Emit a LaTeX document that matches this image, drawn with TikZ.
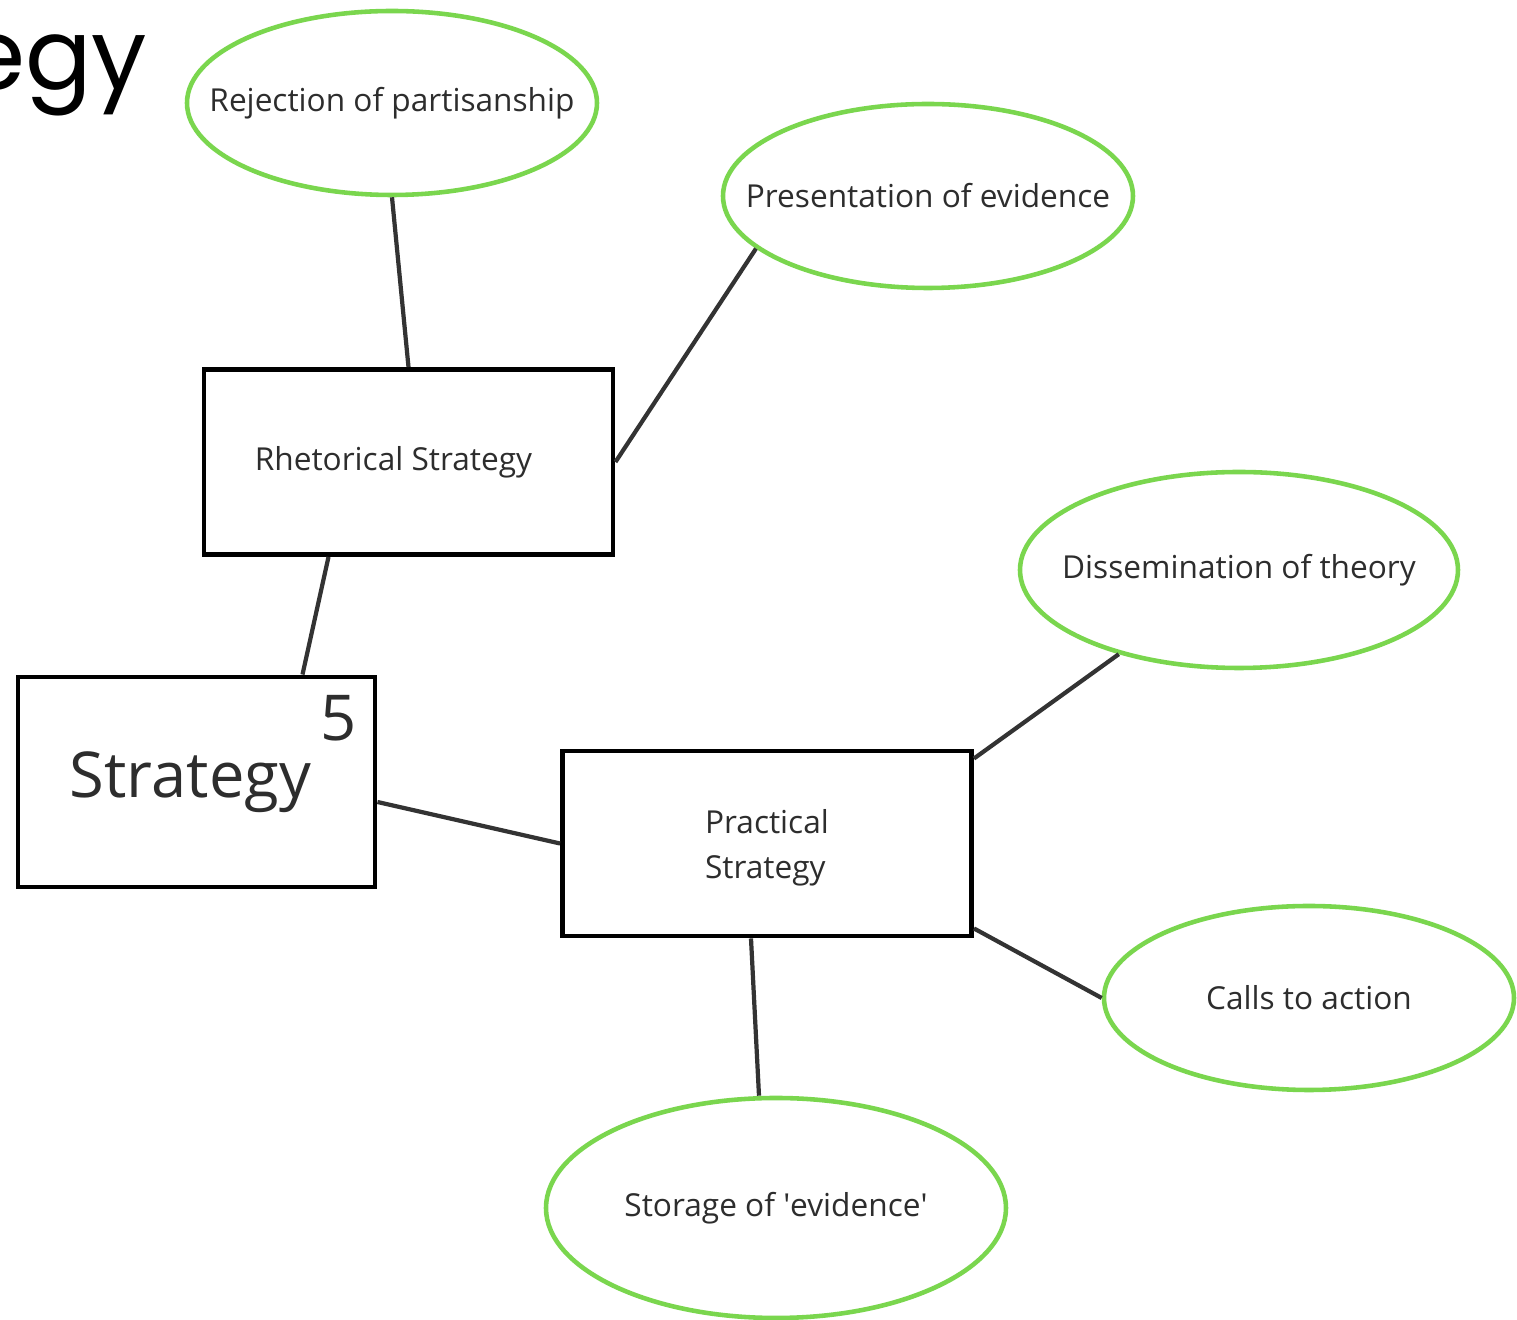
\documentclass[tikz,border=0pt]{standalone}
\usepackage{fontspec}
\setmainfont{Open Sans}
\newfontfamily\titlefont{Poppins}
\usepackage{xcolor}
\usepackage{tikz}
\usetikzlibrary{shapes,positioning,calc}
\definecolor{ideagreen}{RGB}{122, 214, 78}
\definecolor{linkgray}{RGB}{51, 51, 51}
\definecolor{textgray}{RGB}{45, 45, 45}
% text that does not widen its ellipse
\newcommand{\ideatext}[1]{\makebox[0pt]{#1}}

\begin{document}
\begin{tikzpicture}[
    % mind-map styles
    idea/.style={ellipse, draw=ideagreen, line width=1.3pt, fill=white, inner sep=0pt, minimum width=4.1cm, minimum height=1.84cm, text=textgray, font=\fontsize{9}{12.8}\selectfont},
    strategy/.style={rectangle, draw=black, line width=1.4pt, fill=white, inner sep=0pt, minimum width=4.09cm, minimum height=1.85cm, text=textgray, font=\fontsize{9}{12.8}\selectfont},
    link/.style={line width=1.2pt, color=linkgray}
]
\useasboundingbox (0,0) rectangle (15.17,-13.2);

% Cut-off title
\node [anchor=base east, inner sep=0pt, font=\titlefont\fontsize{28}{32}\selectfont, text=black] (title) at (1.48,-0.9) {egy};

% Strategy boxes
\node [strategy] (rhetorical) at (4.085,-4.62) {\hspace*{-0.3cm}\raisebox{-0.03cm}{Rhetorical Strategy}};
\node [strategy, minimum width=3.57cm, minimum height=2.1cm, font=\fontsize{18}{22}\selectfont] (strategy) at (1.965,-7.82) {\hspace*{-0.12cm}\raisebox{-0.08cm}{Strategy}};
\node [anchor=north east, inner sep=0pt, font=\fontsize{18}{22}\selectfont, text=textgray] (number) at ($(strategy.north east)+(-0.2,-0.2)$) {5};
\node [strategy, align=left, text depth=-0.06cm] (practical) at (7.67,-8.435) {Practical\\Strategy};

% Ideas
\node [idea] (rejection) at (3.92,-1.03) {\ideatext{\raisebox{-0.03cm}{Rejection of partisanship}}};
\node [idea] (presentation) at (9.28,-1.96) {\ideatext{Presentation of evidence}};
\node [idea, minimum width=4.38cm, minimum height=1.96cm] (dissemination) at (12.39,-5.70) {\ideatext{Dissemination of theory}};
\node [idea] (calls) at (13.09,-9.98) {\ideatext{Calls to action}};
\node [idea, minimum width=4.6cm, minimum height=2.2cm] (storage) at (7.76,-12.08) {\ideatext{\raisebox{-0.03cm}{Storage of \textquotesingle evidence\textquotesingle}}};

% Rhetorical branch
\draw [link] (rejection.south) -- (rhetorical.north);
\draw [link] (rhetorical.east) -- (presentation.197);
\draw [link] ([xshift=-0.8cm]rhetorical.south) -- ([xshift=1.06cm]strategy.north);

% Practical branch
\draw [link] ([yshift=-0.2cm]strategy.east) -- (practical.west);
\draw [link] ([yshift=-0.1cm]practical.north east) -- (dissemination.215);
\draw [link] ([yshift=0.1cm]practical.south east) -- (calls.west);
\draw [link] ([xshift=-0.16cm]practical.south) -- ([xshift=-0.17cm]storage.north);

\end{tikzpicture}
\end{document}
